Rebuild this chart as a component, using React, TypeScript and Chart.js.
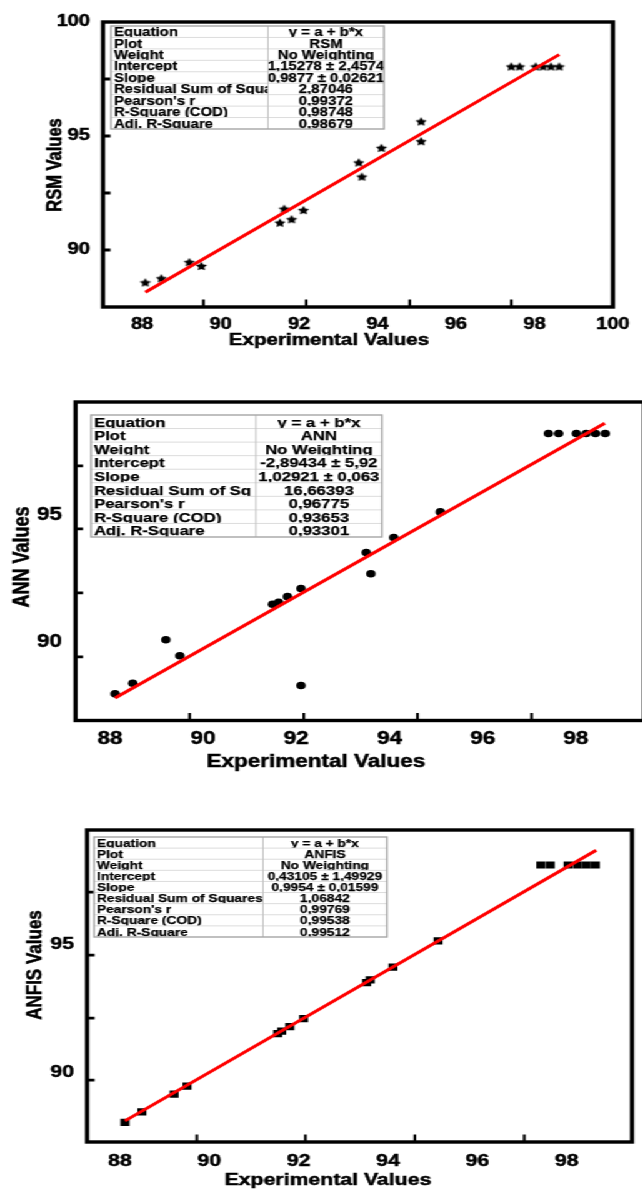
import React, { useEffect, useRef } from 'react';
import { Chart, registerables } from 'chart.js';

Chart.register(...registerables);

// ---------------- data ----------------
const xTickLabelsRSM = [88, 90, 92, 94, 96, 98, 100];
const xTickLabelsNet = [88, 90, 92, 94, 96, 98];
const yTickLabelsRSM = [90, 95, 100];
const yTickLabelsNet = [90, 95];

const rsmTickMarksX = [89.56, 92.18, 94.82, 97.41];
const rsmTickMarksY = [90, 92.5, 95, 97.5];
const annTickMarksX = [89.71, 92.16, 94.6, 97.05];
const annTickMarksY = [89.41, 91.93, 94.45, 96.93];
const anfisTickMarksX = [89.72, 92.15, 94.6, 97.05];
const anfisTickMarksY = [89.71, 92.12, 94.57, 97.02];

const rsmExperimental = [88.08, 88.49, 89.2, 89.51, 91.51, 91.62, 91.81, 92.11, 93.52, 93.6, 94.1, 95.11, 95.11, 97.41, 97.62, 98.03, 98.22, 98.42, 98.63];
const rsmPredicted = [88.58, 88.76, 89.47, 89.3, 91.2, 91.81, 91.35, 91.75, 93.84, 93.22, 94.48, 95.64, 94.77, 98.05, 98.05, 98.05, 98.05, 98.05, 98.05];
const rsmFitX = [88.08, 98.63];
const rsmFitY = [88.15, 98.57];

const annExperimental = [88.11, 88.49, 89.2, 89.5, 91.49, 91.62, 91.81, 92.1, 92.1, 93.5, 93.6, 94.09, 95.09, 97.41, 97.63, 98.01, 98.22, 98.42, 98.63];
const annPredicted = [87.95, 88.37, 90.08, 89.45, 91.48, 91.56, 91.78, 92.1, 88.28, 93.52, 92.68, 94.11, 95.12, 98.21, 98.21, 98.21, 98.21, 98.21, 98.21];
const annFitX = [88.11, 98.62];
const annFitY = [87.79, 98.61];

const anfisExperimental = [88.11, 88.49, 89.21, 89.5, 91.53, 91.62, 91.8, 92.11, 93.52, 93.6, 94.11, 95.12, 97.42, 97.63, 98.03, 98.24, 98.44, 98.64];
const anfisPredicted = [88.07, 88.48, 89.17, 89.48, 91.52, 91.62, 91.79, 92.1, 93.5, 93.61, 94.1, 95.12, 98.07, 98.07, 98.07, 98.07, 98.07, 98.07];
const anfisFitX = [88.11, 98.66];
const anfisFitY = [88.13, 98.64];

const rsmTableLabels = ['Equation', 'Plot', 'Weight', 'Intercept', 'Slope', 'Residual Sum of Squa', "Pearson's r", 'R-Square (COD)', 'Adj. R-Square'];
const rsmTableValues = ['y = a + b*x', 'RSM', 'No Weighting', '1,15278 ± 2,4574', '0,9877 ± 0,02621', '2,87046', '0,99372', '0,98748', '0,98679'];
const annTableLabels = ['Equation', 'Plot', 'Weight', 'Intercept', 'Slope', 'Residual Sum of Sq', "Pearson's r", 'R-Square (COD)', 'Adj. R-Square'];
const annTableValues = ['y = a + b*x', 'ANN', 'No Weighting', '-2,89434 ± 5,92', '1,02921 ± 0,063', '16,66393', '0,96775', '0,93653', '0,93301'];
const anfisTableLabels = ['Equation', 'Plot', 'Weight', 'Intercept', 'Slope', 'Residual Sum of Squares', "Pearson's r", 'R-Square (COD)', 'Adj. R-Square'];
const anfisTableValues = ['y = a + b*x', 'ANFIS', 'No Weighting', '0,43105 ± 1,49929', '0,9954 ± 0,01599', '1,06842', '0,99769', '0,99538', '0,99512'];

// ---------------- layout / style ----------------
const STRETCH = 1.25; // horizontal stretch of the whole figure
const CANVAS_W = 660 / STRETCH;
const FONT = '"Liberation Sans", Arial, Helvetica, sans-serif';

type Marker = 'star' | 'circle' | 'rect';

interface PanelSpec {
  bandTop: number;
  bandHeight: number;
  box: { left: number; right: number; top: number; bottom: number };
  xRange: [number, number];
  yRange: [number, number];
  xTicks: number[];
  yTicks: number[];
  xMarks: number[];
  yMarks: number[];
  tickFont: number;
  tickPadX: number;
  tickPadY: number;
  titleFont: number;
  yTitle: string;
  xTitlePos: [number, number];
  yTitlePos: [number, number];
  table: { left: number; right: number; top: number; bottom: number; divider: number; font: number; labels: string[]; values: string[] };
  px: number[];
  py: number[];
  fitX: number[];
  fitY: number[];
  marker: Marker;
  markerSize: number;
}

const panels: PanelSpec[] = [
  {
    bandTop: 0,
    bandHeight: 362,
    box: { left: 103, right: 613, top: 22, bottom: 307 },
    xRange: [87, 100],
    yRange: [87.5, 100],
    xTicks: xTickLabelsRSM,
    yTicks: yTickLabelsRSM,
    xMarks: rsmTickMarksX,
    yMarks: rsmTickMarksY,
    tickFont: 16,
    tickPadX: 7.5,
    tickPadY: 10.5,
    titleFont: 16.5,
    yTitle: 'RSM Values',
    xTitlePos: [329, 340],
    yTitlePos: [55, 165],
    table: { left: 111, right: 384, top: 26, bottom: 129, divider: 268, font: 12, labels: rsmTableLabels, values: rsmTableValues },
    px: rsmExperimental,
    py: rsmPredicted,
    fitX: rsmFitX,
    fitY: rsmFitY,
    marker: 'star',
    markerSize: 4.8,
  },
  {
    bandTop: 380,
    bandHeight: 400,
    box: { left: 75.5, right: 644, top: 402, bottom: 720.5 },
    xRange: [87.26, 99.46],
    yRange: [86.9, 99.45],
    xTicks: xTickLabelsNet,
    yTicks: yTickLabelsNet,
    xMarks: annTickMarksX,
    yMarks: annTickMarksY,
    tickFont: 18,
    tickPadX: 7.5,
    tickPadY: 11,
    titleFont: 18,
    yTitle: 'ANN Values',
    xTitlePos: [316, 762],
    yTitlePos: [23, 557],
    table: { left: 91, right: 382, top: 415, bottom: 537, divider: 256, font: 13.4, labels: annTableLabels, values: annTableValues },
    px: annExperimental,
    py: annPredicted,
    fitX: annFitX,
    fitY: annFitY,
    marker: 'circle',
    markerSize: 3.8,
  },
  {
    bandTop: 800,
    bandHeight: 389,
    box: { left: 87, right: 632, top: 830, bottom: 1142 },
    xRange: [87.26, 99.46],
    yRange: [87.31, 99.43],
    xTicks: xTickLabelsNet,
    yTicks: yTickLabelsNet,
    xMarks: anfisTickMarksX,
    yMarks: anfisTickMarksY,
    tickFont: 17,
    tickPadX: 9,
    tickPadY: 10.5,
    titleFont: 17,
    yTitle: 'ANFIS Values',
    xTitlePos: [328, 1180],
    yTitlePos: [35, 965],
    table: { left: 94, right: 387, top: 837, bottom: 937, divider: 263, font: 11, labels: anfisTableLabels, values: anfisTableValues },
    px: anfisExperimental,
    py: anfisPredicted,
    fitX: anfisFitX,
    fitY: anfisFitY,
    marker: 'rect',
    markerSize: 5.1,
  },
];

function makeStar(r: number): HTMLCanvasElement {
  const size = Math.ceil(r * 2 + 2);
  const c = document.createElement('canvas');
  c.width = size;
  c.height = size;
  const g = c.getContext('2d')!;
  g.fillStyle = '#000';
  g.beginPath();
  const cx = size / 2;
  const cy = size / 2 + r * 0.1;
  for (let i = 0; i < 10; i++) {
    const a = -Math.PI / 2 + (i * Math.PI) / 5;
    const rad = i % 2 === 0 ? r : r * 0.5;
    const x = cx + rad * Math.cos(a);
    const y = cy + rad * Math.sin(a);
    if (i === 0) g.moveTo(x, y);
    else g.lineTo(x, y);
  }
  g.closePath();
  g.fill();
  return c;
}

function heavyText(ctx: CanvasRenderingContext2D, s: string, x: number, y: number, w: number) {
  ctx.fillText(s, x, y);
  ctx.lineWidth = w;
  ctx.strokeText(s, x, y);
}

function makeDecor(spec: PanelSpec) {
  const S = STRETCH;
  return {
    id: 'decor',
    afterDraw(chart: any) {
      const ctx: CanvasRenderingContext2D = chart.ctx;
      const { left, right, top, bottom } = chart.chartArea;
      const xs = chart.scales.x;
      const ys = chart.scales.y;
      ctx.save();
      // inward tick marks
      ctx.strokeStyle = '#000';
      ctx.lineWidth = 2.2;
      ctx.beginPath();
      spec.xMarks.forEach((v) => {
        const p = xs.getPixelForValue(v);
        ctx.moveTo(p, bottom);
        ctx.lineTo(p, bottom - 7.5);
      });
      ctx.stroke();
      ctx.lineWidth = 2.8;
      ctx.beginPath();
      spec.yMarks.forEach((v) => {
        const p = ys.getPixelForValue(v);
        ctx.moveTo(left, p);
        ctx.lineTo(left + 7.5 / S, p);
      });
      ctx.stroke();
      // frame
      ctx.lineWidth = 3.4;
      ctx.strokeRect(left, top, right - left, bottom - top);

      // table
      const t = spec.table;
      const L = t.left / S;
      const R = t.right / S;
      const D = t.divider / S;
      const T = t.top - spec.bandTop;
      const B = t.bottom - spec.bandTop;
      const n = t.labels.length;
      const rh = (B - T) / n;
      ctx.fillStyle = '#fff';
      ctx.fillRect(L, T, R - L, B - T);
      ctx.font = `bold ${t.font}px ${FONT}`;
      ctx.fillStyle = '#000';
      ctx.strokeStyle = '#000';
      ctx.textBaseline = 'alphabetic';
      for (let i = 0; i < n; i++) {
        const rt = T + i * rh;
        const base = rt + rh / 2 + t.font * 0.37;
        ctx.save();
        ctx.beginPath();
        ctx.rect(L, rt, D - L, rh);
        ctx.clip();
        ctx.textAlign = 'left';
        heavyText(ctx, t.labels[i], L + 2.4, base, 0.25);
        ctx.restore();
        ctx.save();
        ctx.beginPath();
        ctx.rect(D, rt, R - D, rh);
        ctx.clip();
        ctx.textAlign = 'center';
        heavyText(ctx, t.values[i], (D + R) / 2, base, 0.25);
        ctx.restore();
      }
      ctx.strokeStyle = '#dcdcdc';
      ctx.lineWidth = 1;
      ctx.beginPath();
      for (let i = 1; i < n; i++) {
        const y = T + i * rh;
        ctx.moveTo(L, y);
        ctx.lineTo(R, y);
      }
      ctx.stroke();
      ctx.strokeStyle = '#c2c2c2';
      ctx.beginPath();
      ctx.moveTo(D, T);
      ctx.lineTo(D, B);
      ctx.stroke();
      ctx.strokeStyle = '#a6a6a6';
      ctx.lineWidth = 1.4;
      ctx.strokeRect(L, T, R - L, B - T);

      // axis titles
      ctx.fillStyle = '#000';
      ctx.strokeStyle = '#000';
      ctx.font = `bold ${spec.titleFont}px ${FONT}`;
      ctx.textAlign = 'center';
      ctx.textBaseline = 'middle';
      heavyText(ctx, 'Experimental Values', spec.xTitlePos[0] / S, spec.xTitlePos[1] - spec.bandTop, 0.5);
      ctx.save();
      ctx.translate(spec.yTitlePos[0] / S, spec.yTitlePos[1] - spec.bandTop);
      ctx.rotate(-Math.PI / 2);
      heavyText(ctx, spec.yTitle, 0, 0, 0.5);
      ctx.restore();
      ctx.restore();
    },
  };
}

function Panel({ spec }: { spec: PanelSpec }) {
  const ref = useRef<HTMLCanvasElement | null>(null);
  useEffect(() => {
    const canvas = ref.current;
    if (!canvas) return;
    const S = STRETCH;
    const cl = spec.box.left / S;
    const cr = spec.box.right / S;
    const ct = spec.box.top - spec.bandTop;
    const cb = spec.box.bottom - spec.bandTop;
    const xAxisH = 40;
    let pointStyle: any = spec.marker;
    if (spec.marker === 'star') pointStyle = makeStar(spec.markerSize);
    const tickFont = { family: FONT, size: spec.tickFont, weight: 'bold' as const };
    const chart = new Chart(canvas, {
      type: 'scatter',
      data: {
        datasets: [
          {
            data: spec.fitX.map((x, i) => ({ x, y: spec.fitY[i] })),
            showLine: true,
            borderColor: '#ff0000',
            borderWidth: 3,
            pointRadius: 0,
            fill: false,
          } as any,
          {
            data: spec.px.map((x, i) => ({ x, y: spec.py[i] })),
            pointStyle,
            pointRadius: spec.markerSize,
            backgroundColor: '#000',
            borderColor: '#000',
            borderWidth: 0,
          } as any,
        ],
      },
      options: {
        responsive: false,
        animation: false,
        events: [],
        layout: {
          padding: { left: 0, right: CANVAS_W - cr, top: ct, bottom: spec.bandHeight - cb - xAxisH },
        },
        plugins: { legend: { display: false }, tooltip: { enabled: false } },
        scales: {
          x: {
            type: 'linear',
            min: spec.xRange[0],
            max: spec.xRange[1],
            afterBuildTicks: (axis: any) => {
              axis.ticks = spec.xTicks.map((v) => ({ value: v }));
            },
            afterFit: (s: any) => {
              s.height = xAxisH;
            },
            grid: { display: false, drawTicks: false },
            border: { display: false },
            ticks: {
              autoSkip: false,
              maxRotation: 0,
              padding: spec.tickPadX,
              color: '#000',
              textStrokeColor: '#000',
              textStrokeWidth: 0.5,
              font: tickFont,
              callback: (v: any) => String(v),
            },
          },
          y: {
            type: 'linear',
            min: spec.yRange[0],
            max: spec.yRange[1],
            afterBuildTicks: (axis: any) => {
              axis.ticks = spec.yTicks.map((v) => ({ value: v }));
            },
            afterFit: (s: any) => {
              s.width = cl;
            },
            grid: { display: false, drawTicks: false },
            border: { display: false },
            ticks: {
              autoSkip: false,
              padding: spec.tickPadY,
              color: '#000',
              textStrokeColor: '#000',
              textStrokeWidth: 0.5,
              font: tickFont,
              callback: (v: any) => String(v),
            },
          },
        },
      } as any,
      plugins: [makeDecor(spec)],
    });
    return () => chart.destroy();
  }, [spec]);
  return (
    <canvas
      ref={ref}
      width={Math.round(CANVAS_W)}
      height={spec.bandHeight}
      style={{
        position: 'absolute',
        left: 0,
        top: spec.bandTop,
        width: Math.round(CANVAS_W),
        height: spec.bandHeight,
        display: 'block',
      }}
    />
  );
}

export default function App() {
  return (
    <div
      style={{
        position: 'absolute',
        left: 0,
        top: 0,
        width: 642,
        height: 1189,
        overflow: 'hidden',
        background: '#fff',
      }}
    >
      <div
        style={{
          position: 'absolute',
          left: 0,
          top: 0,
          width: Math.round(CANVAS_W),
          height: 1189,
          transform: `scaleX(${STRETCH})`,
          transformOrigin: '0 0',
        }}
      >
        {panels.map((p, i) => (
          <Panel key={i} spec={p} />
        ))}
      </div>
    </div>
  );
}
